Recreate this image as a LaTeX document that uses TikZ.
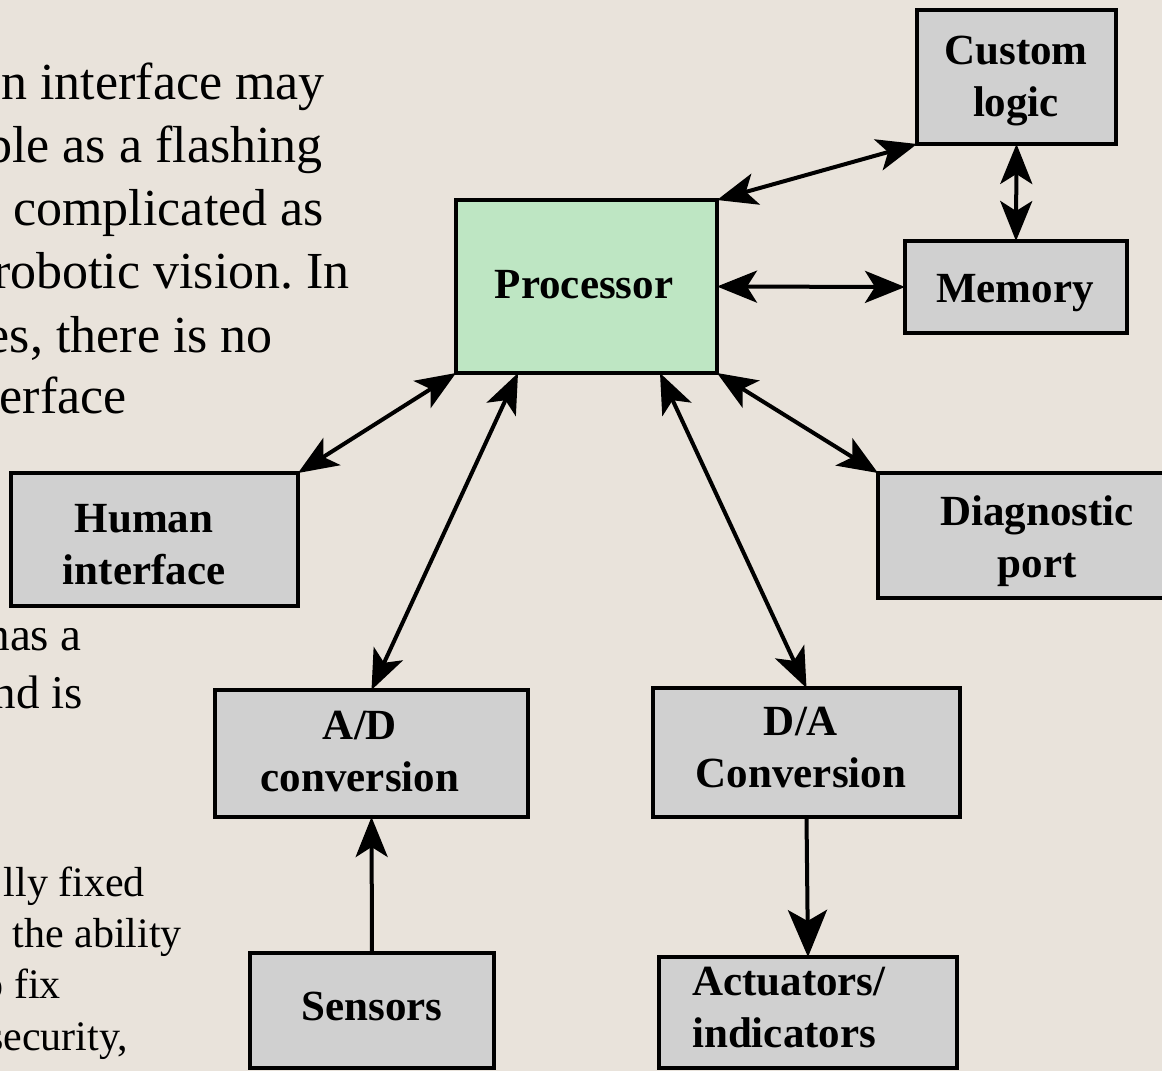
\documentclass[tikz,border=0pt]{standalone}
\usepackage{fontspec}
\setmainfont{Liberation Serif}
\frenchspacing
\usetikzlibrary{arrows.meta,calc}

\definecolor{paper}{HTML}{E9E3DB}
\definecolor{boxgray}{HTML}{D0D0D0}
\definecolor{procgreen}{HTML}{BEE6C3}

\tikzset{
  blk/.style={draw=black, line width=4.5pt, fill=boxgray, inner sep=0pt, outer sep=0pt},
  lbl/.style={font=\bfseries\fontsize{43}{52}\selectfont, align=center, anchor=base, inner sep=0pt},
  lblleft/.style={font=\bfseries\fontsize{43}{52}\selectfont, align=left, anchor=base west, inner sep=0pt},
  bigtxt/.style={font=\fontsize{52}{63}\selectfont, anchor=base east, inner sep=0pt},
  midtxt/.style={font=\fontsize{47}{58}\selectfont, anchor=base east, inner sep=0pt},
  smalltxt/.style={font=\fontsize{42}{51}\selectfont, anchor=base east, inner sep=0pt},
  link/.style={line width=4pt, {Stealth[length=40pt,width=32pt,inset=10pt]}-{Stealth[length=40pt,width=32pt,inset=10pt]}},
  feed/.style={line width=4pt, -{Stealth[length=40pt,width=32pt,inset=10pt]}},
  bigfeed/.style={line width=4pt, -{Stealth[length=47pt,width=39pt,inset=11pt]}}
}

\begin{document}
\begin{tikzpicture}[x=1pt, y=-1pt]
  % paper background and page size
  \fill[paper] (0,0) rectangle (1162,1071);
  \useasboundingbox (0,0) rectangle (1162,1071);

  % surrounding slide text (partly off the page)
  \node[bigtxt] (p1) at (325,99)  {n interface may};
  \node[bigtxt] (p2) at (323,162) {ble as a flashing};
  \node[bigtxt] (p3) at (324,225) {complicated as};
  \node[bigtxt] (p4) at (350,288) {robotic vision. In};
  \node[bigtxt] (p5) at (273,352) {es, there is no};
  \node[bigtxt] (p6) at (127,413) {erface};

  \node[midtxt] (q1) at (82,650) {has a};
  \node[midtxt] (q2) at (83,708) {nd is};

  \node[smalltxt] (r1) at (145,896)  {lly fixed};
  \node[smalltxt] (r2) at (182,947)  {the ability};
  \node[smalltxt] (r3) at (61,998)   {o fix};
  \node[smalltxt] (r4) at (128,1050) {security,};

  % blocks
  \node[blk, fill=procgreen, minimum width=261pt, minimum height=173pt] (proc) at (586.5,286.5) {};
  \node[blk, minimum width=199pt, minimum height=134pt] (custom) at (1016.5,77) {};
  \node[blk, minimum width=222pt, minimum height=92pt]  (mem)    at (1016,287) {};
  \node[blk, minimum width=287pt, minimum height=133pt] (human)  at (154.5,539.5) {};
  \node[blk, minimum width=294pt, minimum height=125pt] (diag)   at (1025,535.5) {};
  \node[blk, minimum width=313pt, minimum height=127pt] (ad)     at (371.5,753.5) {};
  \node[blk, minimum width=307pt, minimum height=129pt] (da)     at (806.5,752.5) {};
  \node[blk, minimum width=244pt, minimum height=115pt] (sens)   at (372,1010.5) {};
  \node[blk, minimum width=298pt, minimum height=111pt] (act)    at (808,1012.5) {};

  % block labels (two-line labels sit on the baseline of their last line)
  \node[lbl] (proc-t)   at (584,298)  {Processor};
  \node[lbl] (custom-t) at (1016,116) {Custom\\logic};
  \node[lbl] (mem-t)    at (1015,302) {Memory};
  \node[lbl] (human-t)  at (144,584)  {Human\\interface};
  \node[lbl] (diag-t)   at (1037,577) {Diagnostic\\port};
  \node[lbl] (ad-t)     at (360,791)  {A/D\\conversion};
  \node[lbl] (da-t)     at (801,787)  {D/A\\Conversion};
  \node[lbl] (sens-t)   at (372,1020) {Sensors};
  \node[lblleft] (act-t) at (692,1047) {Actuators/\\indicators};

  % connections
  \draw[link] (proc.north east) -- (custom.south west);
  \draw[link] (proc.east) -- (mem.west);
  \draw[link] (custom.south) -- (mem.north);
  \draw[link] (proc.south west) -- (human.north east);
  \draw[link] ($(proc.south west)+(62,0)$) -- (ad.north);
  \draw[link] ($(proc.south west)+(204,0)$) -- (da.north);
  \draw[link] (proc.south east) -- (diag.north west);
  \draw[feed] (sens.north) -- (ad.south);
  \draw[bigfeed] (da.south) -- (act.north);
\end{tikzpicture}
\end{document}
